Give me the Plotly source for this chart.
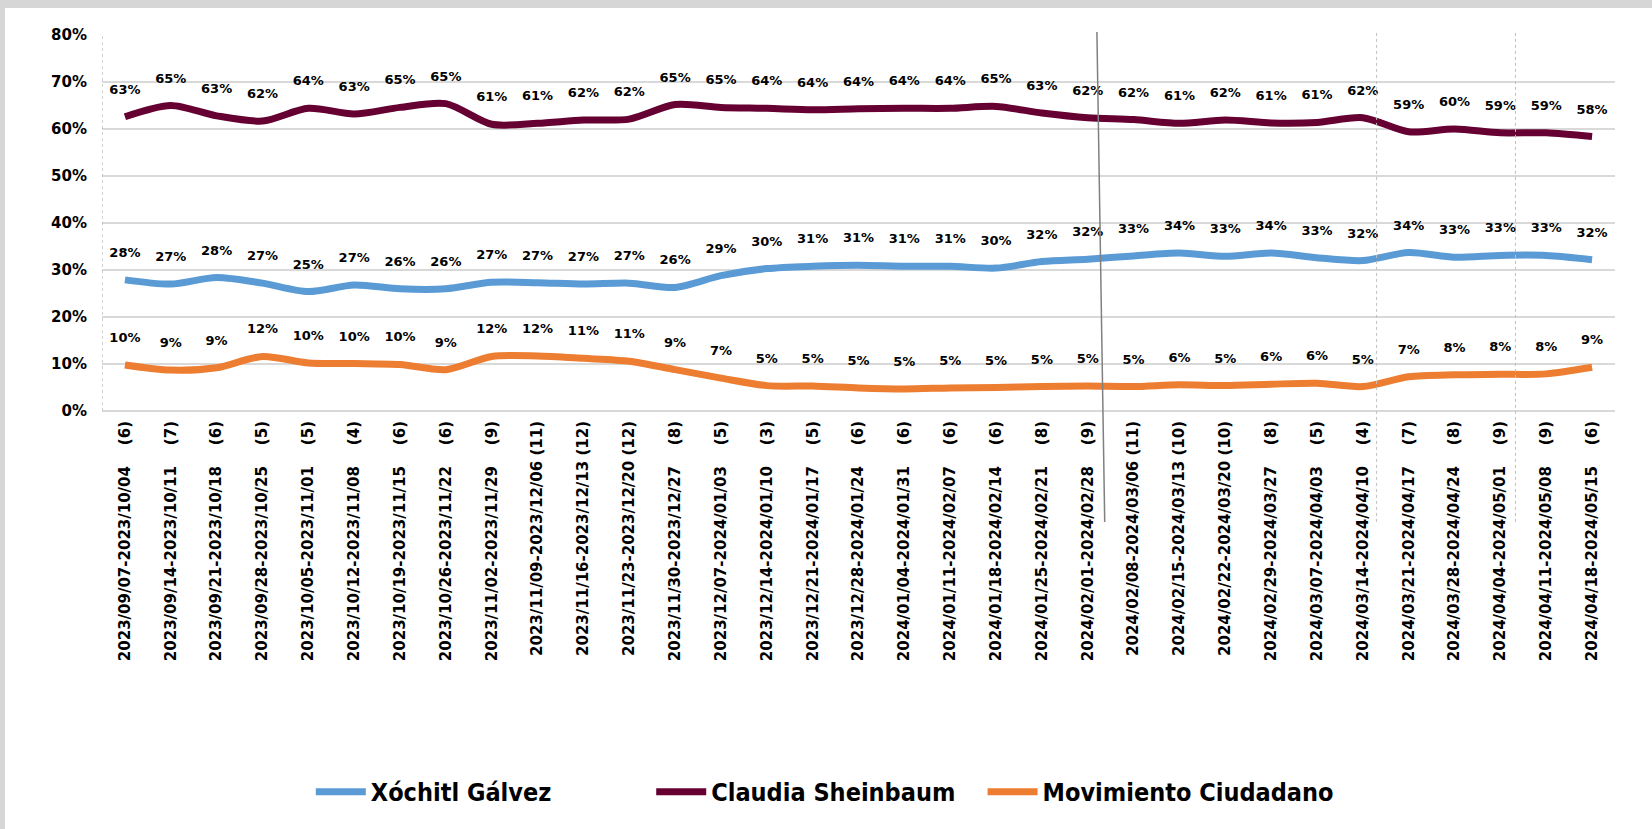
import plotly.graph_objects as go

periods = [
    "2023/09/07-2023/10/04", "2023/09/14-2023/10/11", "2023/09/21-2023/10/18",
    "2023/09/28-2023/10/25", "2023/10/05-2023/11/01", "2023/10/12-2023/11/08",
    "2023/10/19-2023/11/15", "2023/10/26-2023/11/22", "2023/11/02-2023/11/29",
    "2023/11/09-2023/12/06", "2023/11/16-2023/12/13", "2023/11/23-2023/12/20",
    "2023/11/30-2023/12/27", "2023/12/07-2024/01/03", "2023/12/14-2024/01/10",
    "2023/12/21-2024/01/17", "2023/12/28-2024/01/24", "2024/01/04-2024/01/31",
    "2024/01/11-2024/02/07", "2024/01/18-2024/02/14", "2024/01/25-2024/02/21",
    "2024/02/01-2024/02/28", "2024/02/08-2024/03/06", "2024/02/15-2024/03/13",
    "2024/02/22-2024/03/20", "2024/02/29-2024/03/27", "2024/03/07-2024/04/03",
    "2024/03/14-2024/04/10", "2024/03/21-2024/04/17", "2024/03/28-2024/04/24",
    "2024/04/04-2024/05/01", "2024/04/11-2024/05/08", "2024/04/18-2024/05/15",
]
n_polls = [6, 7, 6, 5, 5, 4, 6, 6, 9, 11, 12, 12, 8, 5, 3, 5, 6,
           6, 6, 6, 8, 9, 11, 10, 10, 8, 5, 4, 7, 8, 9, 9, 6]

xochitl = [27.9, 27.0, 28.4, 27.2, 25.4, 26.8, 26.0, 26.0, 27.4, 27.3, 27.0,
           27.2, 26.3, 28.8, 30.3, 30.8, 31.0, 30.8, 30.8, 30.4, 31.8, 32.3,
           33.0, 33.6, 32.9, 33.6, 32.6, 32.0, 33.7, 32.7, 33.1, 33.1, 32.2]
claudia = [62.6, 65.0, 62.8, 61.7, 64.4, 63.2, 64.6, 65.4, 61.0, 61.2, 61.9,
           62.1, 65.2, 64.6, 64.4, 64.1, 64.3, 64.4, 64.4, 64.8, 63.4, 62.4,
           62.0, 61.2, 61.9, 61.3, 61.4, 62.4, 59.4, 60.0, 59.2, 59.2, 58.4]
movimiento = [9.8, 8.7, 9.2, 11.6, 10.2, 10.1, 9.9, 8.8, 11.6, 11.7, 11.2,
              10.6, 8.8, 7.0, 5.4, 5.3, 4.9, 4.7, 4.9, 5.0, 5.2, 5.3,
              5.2, 5.6, 5.4, 5.7, 5.9, 5.2, 7.3, 7.7, 7.8, 7.9, 9.3]

NB = "\u00a0"
tick_text = [p + (NB * 4 if n < 10 else NB) + "(%d)" % n for p, n in zip(periods, n_polls)]
x_idx = list(range(len(periods)))

series = [
    ("Xóchitl Gálvez", xochitl, "#5B9BD5", "legend", 0.138),
    ("Claudia Sheinbaum", claudia, "#660033", "legend2", 0.363),
    ("Movimiento Ciudadano", movimiento, "#ED7D31", "legend3", 0.582),
]

label_font = dict(family="DejaVu Sans", size=13, color="black", weight="bold")
legend_font = dict(family="DejaVu Sans Condensed, DejaVu Sans", size=25,
                   color="black", weight="bold")

fig = go.Figure()
legends = {}
for name, vals, col, leg, leg_x in series:
    fig.add_trace(go.Scatter(
        x=x_idx, y=vals, name=name, legend=leg,
        mode="lines+markers+text",
        line=dict(color=col, width=7, shape="spline", smoothing=0.8),
        marker=dict(size=30, opacity=0, color="rgba(0,0,0,0)", line=dict(width=0)),
        texttemplate="%{y:.0f}%",
        textposition="top center",
        textfont=label_font,
        hoverinfo="x+y+name",
        cliponaxis=False,
    ))
    legends[leg] = dict(orientation="h", x=leg_x, xanchor="left", y=-1.013,
                        yanchor="middle", font=legend_font, itemwidth=50,
                        bgcolor="rgba(0,0,0,0)")

# left dotted axis and vertical separators
fig.add_shape(type="line", xref="x", yref="y", x0=-0.5, x1=-0.5, y0=0, y1=80,
              line=dict(color="#A6A6A6", width=1, dash="dot"))
for xv in [27.3, 30.33]:
    fig.add_shape(type="line", xref="x", yref="paper", x0=xv, x1=xv, y0=-0.295, y1=1.008,
                  line=dict(color="#BFBFBF", width=1, dash="dot"))
fig.add_shape(type="line", xref="x", yref="paper", x0=21.2, x1=21.37, y0=1.008, y1=-0.295,
              line=dict(color="#808080", width=1.5))

# grey border of the slide
fig.add_shape(type="rect", xref="paper", yref="paper", x0=-0.07, x1=1.1, y0=1.0718, y1=1.1,
              line=dict(width=0), fillcolor="#D6D6D6", layer="below")
fig.add_shape(type="rect", xref="paper", yref="paper", x0=-0.07, x1=-0.0641, y0=-1.12, y1=1.1,
              line=dict(width=0), fillcolor="#D6D6D6", layer="below")

fig.update_layout(
    width=1652, height=829,
    margin=dict(l=102, r=37, t=35, b=418),
    paper_bgcolor="white", plot_bgcolor="white",
    showlegend=True,
    hovermode="closest",
    **legends,
)
fig.update_xaxes(
    range=[-0.5, 32.5], tickmode="array", tickvals=x_idx, ticktext=tick_text,
    tickangle=-90, showgrid=False, zeroline=False, showline=False, ticks="",
    ticklabelstandoff=6,
    tickfont=dict(family="DejaVu Sans", size=15, color="black", weight="bold"),
)
fig.update_yaxes(
    range=[0, 80], dtick=10, ticksuffix="%", showgrid=True, gridcolor="#D9D9D9",
    gridwidth=1.5, zeroline=True, zerolinecolor="#D9D9D9", zerolinewidth=1.5,
    showline=False, ticks="", ticklabelstandoff=14,
    tickfont=dict(family="DejaVu Sans", size=15, color="black", weight="bold"),
)

fig.write_html("out.html", config={"displayModeBar": False},
               post_script="document.body.style.margin='0';")
